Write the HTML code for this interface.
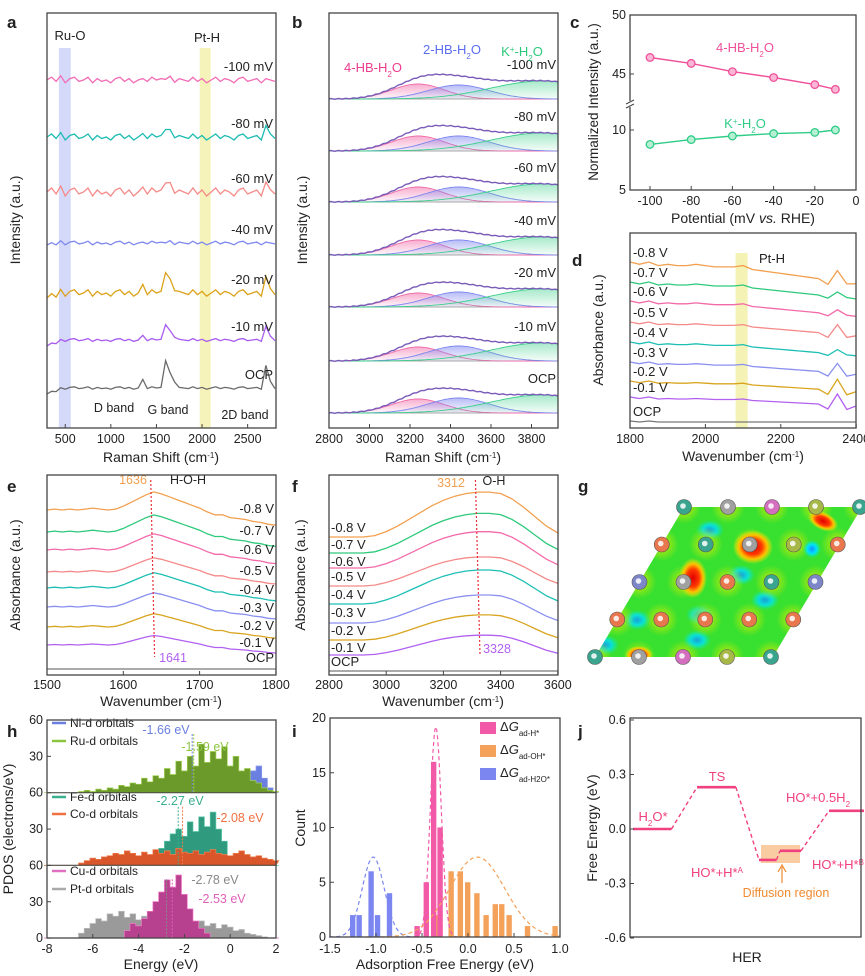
<!DOCTYPE html>
<html><head><meta charset="utf-8"><style>
html,body{margin:0;padding:0;background:#fff;}
svg{display:block;font-family:"Liberation Sans",Arial,sans-serif;}
</style></head><body>
<svg id="fig" width="865" height="976" viewBox="0 0 865 976" xmlns="http://www.w3.org/2000/svg">
<defs>
<linearGradient id="gPink" x1="0" y1="0" x2="0" y2="1"><stop offset="0" stop-color="#f06aa8" stop-opacity="0.55"/><stop offset="1" stop-color="#f06aa8" stop-opacity="0.05"/></linearGradient>
<linearGradient id="gBlue" x1="0" y1="0" x2="0" y2="1"><stop offset="0" stop-color="#7d86ee" stop-opacity="0.55"/><stop offset="1" stop-color="#7d86ee" stop-opacity="0.05"/></linearGradient>
<linearGradient id="gGreen" x1="0" y1="0" x2="0" y2="1"><stop offset="0" stop-color="#3ccf8a" stop-opacity="0.45"/><stop offset="1" stop-color="#3ccf8a" stop-opacity="0.05"/></linearGradient>
<clipPath id="gclip"><polygon points="684,507 862,507 773,657 595,657"/></clipPath>
<radialGradient id="blobR"><stop offset="0" stop-color="#e00000"/><stop offset="0.45" stop-color="#ff3a00"/><stop offset="0.7" stop-color="#ffc000"/><stop offset="1" stop-color="#ffee00" stop-opacity="0"/></radialGradient>
<radialGradient id="blobY"><stop offset="0" stop-color="#ffe800" stop-opacity="0.9"/><stop offset="1" stop-color="#c8f000" stop-opacity="0"/></radialGradient>
<radialGradient id="blobC"><stop offset="0" stop-color="#1090ff"/><stop offset="0.5" stop-color="#00e0ff"/><stop offset="1" stop-color="#00f0d0" stop-opacity="0"/></radialGradient>
</defs>
</svg>
<script>
// ---------- DATA ----------
const aLabels=['-100 mV','-80 mV','-60 mV','-40 mV','-20 mV','-10 mV','OCP'];
const aColors=['#f36cb6','#1dbcb3','#f58a88','#7f88ee','#dca21a','#a95cf0','#6a6a6a'];
const aLevel=[348,291,236,185,135,88,40];
const aNoiseAmp=[1.4,1.5,2.0,0.9,1.6,0.7,0.6];
const aD=[0,2,3,0,7,4,8];
const aG=[2,9,11,1,22,16,28];
const a2D=[0,10,8,0,15,13,22];
const aRise=[0,0,0,2,5,6,6];
const aNoise=[0,2,-1,3,-2,1,2,-1,0,2,-2,1,-1,0,-2,1,2,-1,1,-2,0,1,-1,2,0,1,-1,2,-2,1,0,-1,2,-1,1,-2,0,2,-1,1,0,-2,1,2,-1,0,1,-2,1,0,-1];
const bLabels=['-100 mV','-80 mV','-60 mV','-40 mV','-20 mV','-10 mV','OCP'];
const bLevel=[329,277,226,173,121,67,15];
const bPinkH=[15,15,15,15,14,14,14];
const bBlueH=[14,15,15,15,15,15,15];
const bGreenH=[18,18,18,18,18,18,18];
const bCenters=[3240,3440,3850];
const bSigmas=[130,150,250];
const cX=[-100,-80,-60,-40,-20,-10];
const cHB=[46.4,45.9,45.2,44.7,44.1,43.7];
const cK=[8.8,9.2,9.5,9.7,9.8,10.0];
const dLabels=['-0.8 V','-0.7 V','-0.6 V','-0.5 V','-0.4 V','-0.3 V','-0.2 V','-0.1 V','OCP'];
const dColors=['#f2a050','#2ec97a','#f36aa8','#f58a8a','#1dbfb5','#8a90f0','#d9a520','#b160f0','#777777'];
const dX=[1800,1825,1850,1875,1900,1925,1950,1975,2000,2025,2050,2075,2100,2125,2150,2175,2200,2225,2250,2275,2300,2325,2350,2375,2400];
const dLevel=[165,145,126,105,85,65,46,30,6];
const dSlope=[1.3,1.0,0.9,0.8,0.8,0.7,0.6,0.5,0];
const dSpikeAmp=[8,3,3,8,3,8,10,10,0];
const dBase=[0,1,0,2,1,2,2,1,2,3,3,3,4,5,6,7,8,9,10,11,12,14,12,13,16];
const dSpike=[0,0,0,0,0,0,0,0,0,0,0,0,0,0,0,0,0,0,0,0,0,-0.4,1,-0.5,0];
const eX=[1500,1510,1520,1530,1540,1550,1560,1570,1580,1590,1600,1610,1620,1630,1640,1650,1660,1670,1680,1690,1700,1710,1720,1730,1740,1750,1760,1770,1780,1790,1800];
const eShape=[0,1,0,1,0,1,2,1,0,1,4,8,12,16,19,17,14,11,8,5,2,-2,-5,-5,-8,-9,-10,-12,-13,-15,-16];
const eLevel=[165,143,125,103,87,68,48,30,6];
const eAmp=[0.95,0.9,0.85,0.75,0.8,0.75,0.7,0.5,0];
const fX=[2800,2840,2880,2920,2960,3000,3040,3080,3120,3160,3200,3240,3280,3320,3360,3400,3440,3480,3520,3560,3600];
const fShape=[0,0,0,0,1,4,8,13,18,23,27,30,32,33,33,32,28,22,15,8,3];
const fLevel=[138,122,107,89,71,52,35,20,4];
const fAmp=[1.36,1.2,1.1,0.88,1.03,0.85,0.76,0.6,0];
const hRu=[0,0,0,0,0,0,1,2,1,3,2,4,3,6,5,8,7,12,9,14,12,20,15,26,18,30,22,40,25,34,28,38,22,30,18,20,10,8,4,2,1];
const hNi=[0,0,0,0,0,0,0,0,0,0,0,0,0,0,0,0,0,0,0,0,0,0,0,0,0,0,0,0,0,0,0,0,0,0,6,14,18,22,12,4,0];
const hFe=[0,0,0,0,0,0,0,0,0,0,0,0,0,0,0,0,0,0,4,10,14,20,26,30,24,36,28,40,32,44,30,20,6,0,0,0,0,0,0,0,0];
const hCo=[0,0,0,0,0,0,2,4,6,5,7,8,10,9,12,10,8,11,9,13,10,12,9,14,11,10,12,9,11,13,10,9,8,10,12,9,7,8,6,5,4];
const hCu=[0,0,0,0,0,0,0,0,0,0,0,0,0,0,6,12,10,16,22,30,38,48,42,52,36,24,14,8,4,0,0,0,0,0,0,0,0,0,0,0,0];
const hPt=[0,0,0,0,0,0,4,8,12,16,14,20,18,22,17,20,15,18,16,20,14,18,15,16,13,15,12,14,10,12,8,11,9,6,7,4,3,2,1,0,0];
const hCenters=[-1.66,-1.59,-2.27,-2.08,-2.78,-2.53];
const iBlueX=[-1.25,-1.18,-1.05,-0.98,-0.85];
const iBlueN=[2,2,6,2,4];
const iPinkX=[-0.55,-0.45,-0.37,-0.3];
const iPinkN=[1,5,16,10];
const iOrX=[-0.32,-0.18,-0.08,0.0,0.1,0.2,0.3,0.37,0.45,0.65,0.95];
const iOrN=[2,6,6,5,4,2,3,3,2,1,1];
const iFitMu=[-1.03,-0.35,0.1];
const iFitSig=[0.12,0.06,0.3];
const iFitAmp=[7.3,19.2,7.3];
const jNames=['H2O*','TS','HO*+H*A','HO*+H*B','HO*+0.5H2'];
const jEnergy=[0,0.23,-0.17,-0.12,0.1];
const jStart=[0,1.83,3.6,4.2,5.6];
const jEnd=[1.1,2.94,4.1,4.8,6.6];

// ---------- HELPERS ----------
const NS='http://www.w3.org/2000/svg';
const svg=document.getElementById('fig');
function mk(tag,attrs,name,parent){
  const e=document.createElementNS(NS,tag);
  for(const k in attrs) e.setAttribute(k,attrs[k]);
  
  
  (parent||svg).appendChild(e);return e;
}
function tx(x,y,html,name,o){o=o||{};
  const at={x:x,y:y,'font-size':o.fs||12,fill:o.c||'#222','text-anchor':o.a||'start'};
  if(o.w)at['font-weight']=o.w;
  if(o.r)at.transform='rotate(-90 '+x+' '+y+')';
  const t=mk('text',at,name);t.innerHTML=html;return t;}
function pd(xs,ys){return xs.map((x,i)=>(i?'L':'M')+x.toFixed(1)+' '+ys[i].toFixed(1)).join('');}
function line(xs,ys,col,name,w,dash){const a={d:pd(xs,ys),fill:'none',stroke:col,'stroke-width':w||1.2};if(dash)a['stroke-dasharray']=dash;return mk('path',a,name);}
function box(x0,y0,x1,y1,name){mk('rect',{x:x0,y:y0,width:x1-x0,height:y1-y0,fill:'none',stroke:'#444','stroke-width':1.3},name);}
function xTicks(vals,sx,yb,name,labY,fmt){vals.forEach(v=>{const x=sx(v);
  mk('line',{x1:x,x2:x,y1:yb,y2:yb-4,stroke:'#444'},name+'-tick');
  tx(x,labY,fmt?fmt(v):String(v),name+'-label',{a:'middle',fs:12.5});});}
function yTick(y,x0,lab,name,lx){mk('line',{x1:x0,x2:x0+4,y1:y,y2:y,stroke:'#444'},name+'-tick');tx(lx,y+4,lab,name+'-label',{a:'end',fs:12.5});}
const sub=s=>'<tspan baseline-shift="sub" font-size="8">'+s+'</tspan>';
const sup=s=>'<tspan baseline-shift="super" font-size="8">'+s+'</tspan>';
const ital=s=>'<tspan font-style="italic">'+s+'</tspan>';
const cm='(cm'+sup('-1')+')';

// ---------- PANEL A ----------
(function(){
const sx=v=>47+(v-300)*0.0912, sy=v=>428-v;
mk('rect',{x:sx(430),y:48,width:sx(560)-sx(430),height:380,fill:'#b8bff5',opacity:0.6},'ru-o-band');
mk('rect',{x:sx(1975),y:48,width:sx(2095)-sx(1975),height:380,fill:'#f3f0a8',opacity:0.8},'pt-h-band');
const xs=aNoise.map((_,i)=>sx(300+i*50));
aLabels.forEach((lab,k)=>{
  const ys=aNoise.map((n,i)=>{let v=aLevel[k]+n*aNoiseAmp[k];
    if(i==21)v+=aD[k]; if(i==26)v+=aG[k]; if(i==27)v+=aG[k]*0.5; if(i==28)v+=aG[k]*0.25;
    if(i==48)v+=a2D[k]; if(i==49)v+=a2D[k]*0.3; if(i<4)v-=aRise[k]*(4-i)/4; return sy(v);});
  line(xs,ys,aColors[k],'raman-trace-'+k,1.3);
  tx(273,sy(aLevel[k])-9,lab,'raman-trace-label',{a:'end',fs:13});
});
tx(70,40,'Ru-O','ru-o-label',{a:'middle',fs:13});
tx(207,42,'Pt-H','pt-h-label',{a:'middle',fs:13});
tx(114,412,'D band','d-band-label',{a:'middle',fs:12.5});
tx(168,414,'G band','g-band-label',{a:'middle',fs:12.5});
tx(245,419,'2D band','2d-band-label',{a:'middle',fs:12.5});
box(47,13,276,428,'plot-a-frame');
xTicks([500,1000,1500,2000,2500],sx,428,'a-x',443);
tx(161,462,'Raman Shift '+cm,'a-x-title',{a:'middle',fs:14});
tx(20,220,'Intensity (a.u.)','a-y-title',{a:'middle',fs:14,r:1});
tx(7,28,'a','panel-a-letter',{fs:17,w:'bold'});
})();

// ---------- PANEL B ----------
(function(){
const sx=v=>329+(v-2800)*0.2025, sy=v=>428-v;
const xs=[];for(let v=2800;v<=3930;v+=10)xs.push(v);
const g=(v,c,s)=>Math.exp(-((v-c)*(v-c))/(2*s*s));
bLabels.forEach((lab,k)=>{
  const base=bLevel[k];
  mk('line',{x1:329,x2:558,y1:sy(base),y2:sy(base),stroke:'#aaa','stroke-width':1},'b-baseline');
  const hs=[bPinkH[k],bBlueH[k],bGreenH[k]],fills=['url(#gPink)','url(#gBlue)','url(#gGreen)'],strokes=['#f06aa8','#7d86ee','#3ccf8a'];
  hs.forEach((h,c)=>{
    const ys=xs.map(v=>sy(base+h*g(v,bCenters[c],bSigmas[c])));
    const d=pd(xs.map(sx),ys)+'L'+sx(3930)+' '+sy(base)+'L'+sx(2800)+' '+sy(base)+'Z';
    mk('path',{d:d,fill:fills[c],stroke:'none'},'b-fit-component-fill');
    line(xs.map(sx),ys,strokes[c],'b-fit-component',0.9);
  });
  const env=xs.map((v,i)=>sy(base+hs[0]*g(v,bCenters[0],bSigmas[0])+hs[1]*g(v,bCenters[1],bSigmas[1])+hs[2]*g(v,bCenters[2],bSigmas[2])+0.4*Math.sin(i*1.7)));
  line(xs.map(sx),env,'#7a5cb8','b-envelope',1.4);
  tx(556,sy(base)-30,lab,'b-trace-label',{a:'end',fs:13});
});
tx(373,72,'4-HB-H'+sub('2')+'O','b-4hb-label',{a:'middle',fs:13,c:'#ec3d8e'});
tx(452,54,'2-HB-H'+sub('2')+'O','b-2hb-label',{a:'middle',fs:13,c:'#5b6ef0'});
tx(522,56,'K'+sup('+')+'-H'+sub('2')+'O','b-k-label',{a:'middle',fs:13,c:'#2ec97a'});
box(329,13,558,428,'plot-b-frame');
xTicks([2800,3000,3200,3400,3600,3800],sx,428,'b-x',443);
tx(443,462,'Raman Shift '+cm,'b-x-title',{a:'middle',fs:14});
tx(307,220,'Intensity (a.u.)','b-y-title',{a:'middle',fs:14,r:1});
tx(292,28,'b','panel-b-letter',{fs:17,w:'bold'});
})();

// ---------- PANEL C ----------
(function(){
const sx=v=>650+(v+100)*2.06;
const syT=v=>15+(50-v)*11.8, syB=v=>130+(10-v)*12;
line(cX.map(sx),cHB.map(syT),'#f0509a','c-4hb-line',1.4);
line(cX.map(sx),cK.map(syB),'#2ecc86','c-k-line',1.4);
cX.forEach((x,i)=>{
  mk('circle',{cx:sx(x),cy:syT(cHB[i]),r:3.8,fill:'#f9b6d5',stroke:'#f0509a','stroke-width':1.3},'c-4hb-point');
  mk('circle',{cx:sx(x),cy:syB(cK[i]),r:3.8,fill:'#b6efd3',stroke:'#2ecc86','stroke-width':1.3},'c-k-point');
});
box(630,15,856,190,'plot-c-frame');
mk('rect',{x:625,y:101,width:10,height:6,fill:'#fff'},'c-axis-break-gap');
mk('path',{d:'M626 104 l8 -4 M626 108 l8 -4',stroke:'#444',fill:'none'},'c-axis-break');
yTick(syT(50),630,'50','c-y',626);yTick(syT(45),630,'45','c-y',626);
yTick(syB(10),630,'10','c-y',626);yTick(syB(5),630,'5','c-y',626);
xTicks([-100,-80,-60,-40,-20,0],sx,190,'c-x',205);
tx(743,223,'Potential (mV '+ital('vs.')+' RHE)','c-x-title',{a:'middle',fs:14});
tx(598,102,'Normalized Intensity (a.u.)','c-y-title',{a:'middle',fs:13.5,r:1});
tx(745,52,'4-HB-H'+sub('2')+'O','c-4hb-label',{a:'middle',fs:13,c:'#f0509a'});
tx(745,128,'K'+sup('+')+'-H'+sub('2')+'O','c-k-label',{a:'middle',fs:13,c:'#2ecc86'});
tx(570,28,'c','panel-c-letter',{fs:17,w:'bold'});
})();

// ---------- PANEL D ----------
(function(){
const sx=v=>630+(v-1800)*0.377, sy=v=>428-v;
mk('rect',{x:sx(2080),y:253,width:sx(2112)-sx(2080),height:175,fill:'#f3f0a8',opacity:0.85},'d-pt-h-band');
dLabels.forEach((lab,k)=>{
  const ys=dX.map((x,i)=>{let v=dLevel[k]-dBase[i]*dSlope[k]+dSpike[i]*dSpikeAmp[k];if(i==0||i==2)v+=1;if(i==12)v+=2*dSlope[k];return sy(v);});
  line(dX.map(sx),ys,dColors[k],'ir-d-trace-'+k,1.3);
  tx(633,sy(dLevel[k])-6,lab,'d-trace-label',{fs:13});
});
tx(772,263,'Pt-H','d-pt-h-label',{a:'middle',fs:13});
box(630,233,856,428,'plot-d-frame');
xTicks([1800,2000,2200,2400],sx,428,'d-x',443);
tx(743,461,'Wavenumber '+cm,'d-x-title',{a:'middle',fs:14});
tx(603,330,'Absorbance (a.u.)','d-y-title',{a:'middle',fs:14,r:1});
tx(572,266,'d','panel-d-letter',{fs:17,w:'bold'});
})();

// ---------- PANEL E ----------
(function(){
const sx=v=>47+(v-1500)*0.763, sy=v=>675-v;
dLabels.forEach((lab,k)=>{
  const ys=eShape.map(s=>sy(eLevel[k]+s*eAmp[k]));
  line(eX.map(sx),ys,dColors[k],'ir-e-trace-'+k,1.3);
});
const ly=[513,535,554,575,594,612,630,647,662];
dLabels.forEach((lab,k)=>tx(274,ly[k],lab,'e-trace-label',{a:'end',fs:13}));
mk('line',{x1:sx(1636),x2:sx(1641),y1:480,y2:657,stroke:'#e8303a','stroke-width':1.2,'stroke-dasharray':'2,2'},'e-peak-shift-line');
tx(133,484,'1636','e-1636-label',{a:'middle',fs:12.5,c:'#f0a050'});
tx(188,484,'H-O-H','e-hoh-label',{a:'middle',fs:12.5});
tx(173,662,'1641','e-1641-label',{a:'middle',fs:12.5,c:'#b160f0'});
box(47,475,276,675,'plot-e-frame');
xTicks([1500,1600,1700,1800],sx,675,'e-x',689);
tx(161,706,'Wavenumber '+cm,'e-x-title',{a:'middle',fs:14});
tx(20,575,'Absorbance (a.u.)','e-y-title',{a:'middle',fs:14,r:1});
tx(7,492,'e','panel-e-letter',{fs:17,w:'bold'});
})();

// ---------- PANEL F ----------
(function(){
const sx=v=>329+(v-2800)*0.286, sy=v=>675-v;
dLabels.forEach((lab,k)=>{
  const ys=fShape.map(s=>sy(fLevel[k]+s*fAmp[k]));
  line(fX.map(sx),ys,dColors[k],'ir-f-trace-'+k,1.3);
});
const ly=[532,549,566,581,599,617,635,652,666];
dLabels.forEach((lab,k)=>tx(331,ly[k],lab,'f-trace-label',{fs:13}));
mk('line',{x1:sx(3312),x2:sx(3328),y1:480,y2:655,stroke:'#e8303a','stroke-width':1.2,'stroke-dasharray':'2,2'},'f-peak-shift-line');
tx(451,487,'3312','f-3312-label',{a:'middle',fs:12.5,c:'#f0a050'});
tx(494,485,'O-H','f-oh-label',{a:'middle',fs:12.5});
tx(497,653,'3328','f-3328-label',{a:'middle',fs:12.5,c:'#b160f0'});
box(329,475,558,675,'plot-f-frame');
xTicks([2800,3000,3200,3400,3600],sx,675,'f-x',689);
tx(443,706,'Wavenumber '+cm,'f-x-title',{a:'middle',fs:14});
tx(305,575,'Absorbance (a.u.)','f-y-title',{a:'middle',fs:14,r:1});
tx(292,492,'f','panel-f-letter',{fs:17,w:'bold'});
})();

// ---------- PANEL G ----------
(function(){
const gg=mk('g',{'clip-path':'url(#gclip)'},'charge-density-map');
mk('polygon',{points:'684,507 862,507 773,657 595,657',fill:'#38e030'},'map-background',gg);
const rows=[507,544.5,582,619.5,657];
const atoms=[
 ['#3aa58f','#a0a0a0','#d46fc0','#a8b848','#3aa58f'],
 ['#e8774d','#3aa58f','#a0a0a0','#a8b848','#e8774d'],
 ['#7c86c8','#a0a0a0','#e8774d','#3aa58f','#7c86c8'],
 ['#e8774d','#e8774d','#e8774d','#e8774d','#e8774d'],
 ['#3aa58f','#a0a0a0','#d46fc0','#a8b848','#3aa58f']];
const cyan=[[710,530],[860,535],[700,615],[765,600],[697,640],[637,620],[605,645],[830,620],[741,575]];
cyan.forEach(p=>mk('ellipse',{cx:p[0],cy:p[1],rx:14,ry:10,fill:'url(#blobC)',opacity:0.8},'map-low-density',gg));
rows.forEach((y,r)=>atoms[r].forEach((c,i)=>{const x=684-r*22.25+i*44;mk('circle',{cx:x,cy:y,r:17,fill:'url(#blobY)'},'map-halo',gg);}));
mk('ellipse',{cx:753,cy:547,rx:20,ry:17,fill:'url(#blobR)'},'map-high-density',gg);
mk('ellipse',{cx:693,cy:578,rx:14,ry:20,fill:'url(#blobR)'},'map-high-density',gg);
mk('ellipse',{cx:823,cy:521,rx:16,ry:9,fill:'url(#blobR)',transform:'rotate(25 823 521)'},'map-high-density',gg);
mk('ellipse',{cx:639,cy:655,rx:14,ry:9,fill:'url(#blobR)'},'map-high-density',gg);
mk('ellipse',{cx:812,cy:549,rx:9,ry:9,fill:'url(#blobC)'},'map-low-density',gg);
rows.forEach((y,r)=>atoms[r].forEach((c,i)=>{const x=684-r*22.25+i*44;
  mk('circle',{cx:x,cy:y,r:7.5,fill:c,stroke:'#555','stroke-width':0.6},'atom');
  mk('circle',{cx:x-1,cy:y-1,r:2.8,fill:'#fff',opacity:0.85},'atom-highlight');}));
tx(578,492,'g','panel-g-letter',{fs:17,w:'bold'});
})();

// ---------- PANEL H ----------
(function(){
const sx=v=>47+(v+8)*22.9;
const tops=[720,792.7,865.3], H=72.7;
const xs=hRu.map((_,i)=>-8+i*0.25);
function area(arr,p,col,stroke,name){
  const yb=tops[p]+H, sc=H/60;
  let d='M'+sx(-8)+' '+yb;
  arr.forEach((v,i)=>{const x0=sx(xs[i]-0.125),x1=sx(xs[i]+0.125);d+='L'+x0.toFixed(1)+' '+(yb-v*sc).toFixed(1)+'L'+x1.toFixed(1)+' '+(yb-v*sc).toFixed(1);});
  d+='L'+sx(2)+' '+yb+'Z';
  mk('path',{d:d,fill:col,stroke:stroke,'stroke-width':0.7},name);
}
area(hNi,0,'#6a7fe0','#8a9af0','pdos-ni');
area(hRu,0,'#6c9a2a','#9ed04e','pdos-ru');
area(hFe,1,'#2f9a7e','#5cc9a8','pdos-fe');
area(hCo,1,'#d9552a','#f08050','pdos-co');
area(hPt,2,'#9a9a9a','#bdbdbd','pdos-pt');
area(hCu,2,'#b8418f','#f07ac8','pdos-cu');
const cc=['#6a7fe0','#9ed04e','#3ab08e','#f07c4a','#888','#e060b8'],pp=[0,0,1,1,2,2];
hCenters.forEach((c,k)=>mk('line',{x1:sx(c),x2:sx(c),y1:tops[pp[k]]+14,y2:tops[pp[k]]+H,stroke:cc[k],'stroke-width':1,'stroke-dasharray':'2,1.5'},'d-band-center-line'));
mk('line',{x1:47,x2:276,y1:tops[1],y2:tops[1],stroke:'#444'},'h-divider');
mk('line',{x1:47,x2:276,y1:tops[2],y2:tops[2],stroke:'#444'},'h-divider');
const leg=[['Ni-d orbitals','#6a7fe0',727],['Ru-d orbitals','#8cc63f',745],['Fe-d orbitals','#3ab08e',801],['Co-d orbitals','#f07040',818],['Cu-d orbitals','#e070c0',875],['Pt-d orbitals','#aaa',893]];
leg.forEach(l=>{mk('line',{x1:52,x2:66,y1:l[2]-4,y2:l[2]-4,stroke:l[1],'stroke-width':2.5},'h-legend-swatch');tx(70,l[2],l[0],'h-legend-label',{fs:12});});
tx(166,734,'-1.66 eV','h-ni-center-label',{a:'middle',fs:12.5,c:'#6a7fe0'});
tx(205,751,'-1.59 eV','h-ru-center-label',{a:'middle',fs:12.5,c:'#8cc63f'});
tx(180,805,'-2.27 eV','h-fe-center-label',{a:'middle',fs:12.5,c:'#3ab08e'});
tx(240,822,'-2.08 eV','h-co-center-label',{a:'middle',fs:12.5,c:'#f07040'});
tx(215,884,'-2.78 eV','h-cu-center-label',{a:'middle',fs:12.5,c:'#888'});
tx(222,903,'-2.53 eV','h-pt-center-label',{a:'middle',fs:12.5,c:'#e060b8'});
box(47,720,276,938,'plot-h-frame');
const yl=['60','30','60','30','60','30','0'];
yl.forEach((l,i)=>yTick(720+i*H/2,47,l,'h-y',43));
xTicks([-8,-6,-4,-2,0,2],sx,938,'h-x',953);
tx(161,969,'Energy (eV)','h-x-title',{a:'middle',fs:14});
tx(13,829,'PDOS (electrons/eV)','h-y-title',{a:'middle',fs:14,r:1});
tx(7,737,'h','panel-h-letter',{fs:17,w:'bold'});
})();

// ---------- PANEL I ----------
(function(){
const sx=v=>330+(v+1.5)*92, sy=v=>937-v*10.95, bw=0.065*92;
function bars(xs,ns,col,name){xs.forEach((x,i)=>mk('rect',{x:sx(x)-bw/2,y:sy(ns[i]),width:bw-0.6,height:937-sy(ns[i]),fill:col},name));}
bars(iBlueX,iBlueN,'#7c86f0','bar-h2o');
bars(iOrX,iOrN,'#f4a15a','bar-oh');
bars(iPinkX,iPinkN,'#f25aa8','bar-h');
const cols=['#7c86f0','#f25aa8','#f4a15a'];
iFitMu.forEach((m,k)=>{const xs=[],ys=[];for(let v=m-4*iFitSig[k];v<=Math.min(1,m+4*iFitSig[k]);v+=0.01){xs.push(sx(v));ys.push(sy(iFitAmp[k]*Math.exp(-((v-m)*(v-m))/(2*iFitSig[k]*iFitSig[k]))));}
  line(xs,ys,cols[k],'gaussian-fit',1.2,'4,3');});
const lg=[['#f25aa8','ad-H*',731],['#f4a15a','ad-OH*',754],['#7c86f0','ad-H2O*',777]];
lg.forEach(l=>{mk('rect',{x:480,y:l[2]-9,width:16,height:12,fill:l[0]},'i-legend-swatch');
  tx(500,l[2],'Δ'+ital('G')+'<tspan baseline-shift="sub" font-size="8">'+l[1]+'</tspan>','i-legend-label',{fs:13});});
box(330,718,560,937,'plot-i-frame');
[0,5,10,15,20].forEach(v=>yTick(sy(v),330,String(v),'i-y',326));
xTicks([-1.5,-1.0,-0.5,0,0.5,1.0],sx,937,'i-x',953,v=>v.toFixed(1));
tx(445,969,'Adsorption Free Energy (eV)','i-x-title',{a:'middle',fs:14});
tx(305,828,'Count','i-y-title',{a:'middle',fs:14,r:1});
tx(292,737,'i','panel-i-letter',{fs:17,w:'bold'});
})();

// ---------- PANEL J ----------
(function(){
const sx=r=>633+r*35, sy=v=>829-v*181.7;
mk('rect',{x:761,y:845,width:39,height:18,fill:'#f7c08a',opacity:0.8},'diffusion-region');
for(let k=0;k<jEnergy.length-1;k++)
  line([sx(jEnd[k]),sx(jStart[k+1])],[sy(jEnergy[k]),sy(jEnergy[k+1])],'#f0407f','j-connector',1.4,'4,3');
jEnergy.forEach((e,k)=>mk('line',{x1:sx(jStart[k]),x2:sx(jEnd[k]),y1:sy(e),y2:sy(e),stroke:'#f0407f','stroke-width':2.6},'energy-level-'+k));
mk('path',{d:'M782 883 L782 867 M778 872 L782 865 L786 872',stroke:'#f08a30',fill:'none','stroke-width':1.2},'diffusion-arrow');
tx(786,897,'Diffusion region','diffusion-label',{a:'middle',fs:12.5,c:'#f08a30'});
tx(653,821,'H'+sub('2')+'O*','j-h2o-label',{a:'middle',fs:13,c:'#f0407f'});
tx(717,781,'TS','j-ts-label',{a:'middle',fs:13,c:'#f0407f'});
tx(818,802,'HO*+0.5H'+sub('2'),'j-final-label',{a:'middle',fs:13,c:'#f0407f'});
tx(717,877,'HO*+H*'+sup('A'),'j-ha-label',{a:'middle',fs:13,c:'#f0407f'});
tx(838,869,'HO*+H*'+sup('B'),'j-hb-label',{a:'middle',fs:13,c:'#f0407f'});
box(630,718,861,937,'plot-j-frame');
[[0.6,'0.6'],[0.3,'0.3'],[0,'0.0'],[-0.3,'-0.3'],[-0.6,'-0.6']].forEach(t=>yTick(sy(t[0]),630,t[1],'j-y',626));
tx(747,962,'HER','j-x-title',{a:'middle',fs:14});
tx(597,828,'Free Energy (eV)','j-y-title',{a:'middle',fs:14,r:1});
tx(578,737,'j','panel-j-letter',{fs:17,w:'bold'});
})();
</script>
</body></html>
